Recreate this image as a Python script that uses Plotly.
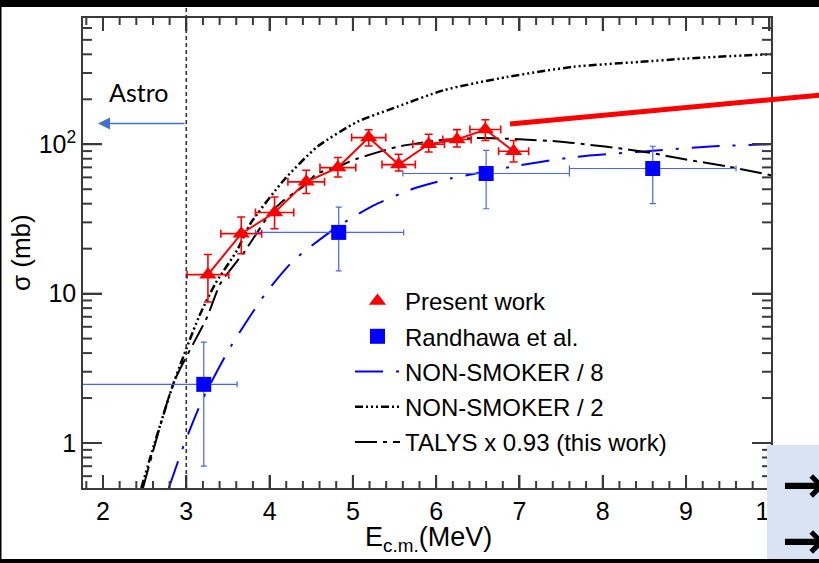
import plotly.graph_objects as go
import numpy as np

# ---------------- data ----------------
pw_E = [3.26, 3.66, 4.06, 4.44, 4.82, 5.19, 5.55, 5.91, 6.25, 6.59, 6.93]
pw_sig = [13.4, 25.2, 34.9, 56.0, 69.8, 110.8, 73.1, 100.0, 107.5, 125.4, 89.8]
pw_err_up = [4.9, 7.4, 9.5, 11.0, 11.7, 14.2, 12.7, 16.7, 17.8, 20.6, 16.2]
pw_err_dn = [4.6, 6.7, 7.7, 9.2, 9.4, 13.4, 6.9, 11.2, 11.6, 19.4, 13.8]
pw_xerr = [0.25, 0.245, 0.23, 0.22, 0.215, 0.205, 0.2, 0.19, 0.17, 0.185, 0.18]

rd_E = [3.21, 4.83, 6.60, 8.60]
rd_sig = [2.47, 25.7, 63.7, 68.8]
rd_err_up = [2.27, 12.3, 27.3, 28.2]
rd_err_dn = [1.77, 11.5, 26.7, 28.8]
rd_xerr_up = [0.40, 0.78, 1.0, 1.0]
rd_xerr_dn = [1.50, 1.00, 1.0, 1.0]

ns8_E = [2.79, 2.98, 3.19, 3.53, 3.95, 4.29, 4.81, 5.25, 5.73, 6.17, 6.89, 7.65, 8.41, 9.21, 10.05]
ns8_sig = [0.5, 1.0, 1.93, 4.39, 10.0, 16.7, 27.9, 39.0, 50.5, 58.9, 70.5, 82.0, 88.8, 96.0, 100.5]

ns2_E = [2.46, 2.62, 2.85, 3.15, 3.35, 3.61, 3.77, 4.17, 4.57, 5.05, 5.53, 6.09, 6.85, 7.65, 8.45, 9.01, 10.05]
ns2_sig = [0.5, 1.0, 2.54, 6.96, 11.7, 19.5, 29.4, 57.4, 96.0, 141.0, 178.0, 230.0, 282.0, 330.0, 356.0, 375.0, 402.0]

ta_E = [2.48, 2.85, 3.25, 3.41, 3.71, 4.00, 4.17, 4.40, 4.57, 4.80, 5.05, 5.53, 6.01, 6.50, 7.00, 7.50, 7.85, 8.20, 8.60, 9.00, 9.50, 10.05]
ta_sig = [0.5, 2.54, 6.96, 11.7, 19.5, 34.0, 42.2, 52.0, 63.7, 70.0, 80.0, 96.0, 106.0, 110.0, 108.0, 104.0, 99.0, 94.0, 87.0, 79.0, 71.0, 61.5]

x_ticks = [2, 3, 4, 5, 6, 7, 8, 9, 10]
x_minor_ticks = [1.8, 2.2, 2.4, 2.6, 2.8, 3.2, 3.4, 3.6, 3.8, 4.2, 4.4, 4.6, 4.8, 5.2, 5.4, 5.6, 5.8,
                 6.2, 6.4, 6.6, 6.8, 7.2, 7.4, 7.6, 7.8, 8.2, 8.4, 8.6, 8.8, 9.2, 9.4, 9.6, 9.8]
y_ticks = [1, 10, 100]
y_tick_text = ["1", "10", "10<sup>2</sup>"]
y_minor_ticks = [0.6, 0.7, 0.8, 0.9, 2, 3, 4, 5, 6, 7, 8, 9,
                 20, 30, 40, 50, 60, 70, 80, 90, 200, 300, 400, 500, 600]

x_range = [1.76, 10.02]
y_range = [float(np.log10(0.5)), float(np.log10(700))]

# ---------------- layout geometry ----------------
FW, FH = 819, 563
ML, MR, MT, MB = 83, 48, 18, 75
PW, PH = FW - ML - MR, FH - MT - MB


def px(x):
    return (x - ML) / PW


def py(y):
    return (FH - MB - y) / PH


def xf(v):
    return float((v - x_range[0]) / (x_range[1] - x_range[0]))


def yf(v):
    return float((np.log10(v) - y_range[0]) / (y_range[1] - y_range[0]))


FONT = "Liberation Sans"
AX = "#3a3a3a"

fig = go.Figure()

fig.add_trace(go.Scatter(
    x=ns8_E, y=ns8_sig, mode="lines", name="NON-SMOKER / 8",
    line=dict(color="#0000ff", width=2, dash="28px,13px,3px,13px", shape="spline", smoothing=0.6),
    legendrank=3, legendgroup="c"))
fig.add_trace(go.Scatter(
    x=ns2_E, y=ns2_sig, mode="lines", name="NON-SMOKER / 2",
    line=dict(color="black", width=2.5, dash="8px,3px,2px,3px,2px,3px,2px,3px", shape="spline", smoothing=0.6),
    legendrank=4, legendgroup="d"))
fig.add_trace(go.Scatter(
    x=ta_E, y=ta_sig, mode="lines", name="TALYS x 0.93 (this work)",
    line=dict(color="black", width=2, dash="22px,6px,4px,6px", shape="spline", smoothing=0.6),
    legendrank=5, legendgroup="e"))

fig.add_trace(go.Scatter(
    x=rd_E, y=rd_sig, mode="markers", name="Randhawa et al.",
    marker=dict(symbol="square", size=15, color="#0000ff"),
    error_y=dict(type="data", symmetric=False, array=rd_err_up, arrayminus=rd_err_dn,
                 color="#4a63ff", thickness=1.2, width=3),
    error_x=dict(type="data", symmetric=False, array=rd_xerr_up, arrayminus=rd_xerr_dn,
                 color="#4a63ff", thickness=1.2, width=3),
    legendrank=2, legendgroup="b"))

fig.add_trace(go.Scatter(
    x=pw_E, y=pw_sig, mode="lines", showlegend=False,
    line=dict(color="#ff0000", width=2)))
fig.add_trace(go.Scatter(
    x=pw_E, y=pw_sig, mode="markers", name="Present work",
    marker=dict(symbol="triangle-up", size=15, color="#ff0000"),
    error_y=dict(type="data", symmetric=False, array=pw_err_up, arrayminus=pw_err_dn,
                 color="#ff0000", thickness=1.6, width=4),
    error_x=dict(type="data", array=pw_xerr, color="#ff0000", thickness=1.6, width=4),
    legendrank=1, legendgroup="a"))

fig.update_layout(
    xaxis=dict(
        range=x_range, tickmode="array", tickvals=x_ticks,
        ticks="inside", ticklen=13, tickwidth=2, tickcolor=AX,
        showline=True, linecolor=AX, linewidth=1.5, mirror="ticks",
        showgrid=False, zeroline=False,
        tickfont=dict(family=FONT, size=25, color="black"),
    ),
    yaxis=dict(
        type="log", range=y_range, tickmode="array", tickvals=y_ticks, ticktext=y_tick_text,
        ticks="inside", ticklen=19, tickwidth=2, tickcolor=AX,
        showline=True, linecolor=AX, linewidth=1.5, mirror="ticks",
        showgrid=False, zeroline=False,
        tickfont=dict(family=FONT, size=25, color="black"),
    ),
)

# frame tick marks (ROOT style, on all four sides), placed through the axis ranges
tick_line = dict(color=AX, width=2)
shapes = []
for v, ln in [(v, 13) for v in x_ticks] + [(v, 7) for v in x_minor_ticks]:
    if x_range[0] < v < x_range[1]:
        shapes.append(dict(type="line", xref="paper", yref="paper", x0=xf(v), x1=xf(v), y0=0.0, y1=ln / PH,
                           line=tick_line, layer="above"))
        shapes.append(dict(type="line", xref="paper", yref="paper", x0=xf(v), x1=xf(v), y0=1.0, y1=1 - ln / PH,
                           line=tick_line, layer="above"))
for v, ln in [(v, 19) for v in y_ticks] + [(v, 9) for v in y_minor_ticks]:
    shapes.append(dict(type="line", xref="paper", yref="paper", x0=0.0, x1=ln / PW, y0=yf(v), y1=yf(v),
                       line=tick_line, layer="above"))
    shapes.append(dict(type="line", xref="paper", yref="paper", x0=1.0, x1=1 - ln / PW, y0=yf(v), y1=yf(v),
                       line=tick_line, layer="above"))

# slide decorations (pixel positions converted to paper coordinates)
xe3 = xf(3)
shapes += [
    dict(type="rect", xref="paper", yref="paper", x0=px(0), x1=px(FW), y0=py(0), y1=py(7),
         fillcolor="black", line=dict(width=0), layer="above"),
    dict(type="rect", xref="paper", yref="paper", x0=px(0), x1=px(FW), y0=py(559), y1=py(FH),
         fillcolor="black", line=dict(width=0), layer="above"),
    dict(type="rect", xref="paper", yref="paper", x0=px(0), x1=px(1.5), y0=py(0), y1=py(FH),
         fillcolor="black", line=dict(width=0), layer="above"),
    dict(type="rect", xref="paper", yref="paper", x0=px(767), x1=px(FW), y0=py(445), y1=py(559),
         fillcolor="#dae3f3", line=dict(width=0), layer="above"),
    dict(type="line", xref="paper", yref="paper", x0=px(510), y0=py(124), x1=px(FW + 2), y1=py(95),
         line=dict(color="#ff0000", width=5), layer="above"),
    dict(type="line", xref="paper", yref="paper", x0=xe3, x1=xe3, y0=0, y1=py(7),
         line=dict(color="#333333", width=1.6, dash="4px,3px"), layer="above"),
]

annotations = [
    dict(xref="paper", yref="paper", x=px(98), y=py(123.5), ax=88, ay=0, text="",
         showarrow=True, arrowhead=2, arrowsize=1.6, arrowwidth=1.5, arrowcolor="#4472c4"),
    dict(xref="paper", yref="paper", x=px(138), y=py(92), text="Astro", showarrow=False,
         font=dict(family="Lato", size=25, color="black"),
         xanchor="center", yanchor="middle"),
    dict(xref="paper", yref="paper", x=px(21), y=py(253), text="σ (mb)", textangle=-90, showarrow=False,
         font=dict(family=FONT, size=26, color="black"), xanchor="center", yanchor="middle"),
    dict(xref="paper", yref="paper", x=px(428), y=py(539), text="E<sub>c.m.</sub>(MeV)", showarrow=False,
         font=dict(family=FONT, size=27, color="black"), xanchor="center", yanchor="middle"),
    dict(xref="paper", yref="paper", x=px(780), y=py(484), text="<b>→</b>", showarrow=False,
         font=dict(family="DejaVu Sans", size=52, color="black"), xanchor="left", yanchor="middle"),
    dict(xref="paper", yref="paper", x=px(780), y=py(540), text="<b>→</b>", showarrow=False,
         font=dict(family="DejaVu Sans", size=52, color="black"), xanchor="left", yanchor="middle"),
]

fig.update_layout(
    width=FW, height=FH,
    margin=dict(l=ML, r=MR, t=MT, b=MB),
    paper_bgcolor="white", plot_bgcolor="white",
    font=dict(family=FONT, color="black"),
    shapes=shapes, annotations=annotations,
    showlegend=True,
    legend=dict(x=px(350), y=py(279), xanchor="left", yanchor="top",
                bgcolor="rgba(0,0,0,0)", font=dict(family=FONT, size=24, color="black"),
                tracegroupgap=1, itemwidth=45),
)

fig.write_html("out.html")
